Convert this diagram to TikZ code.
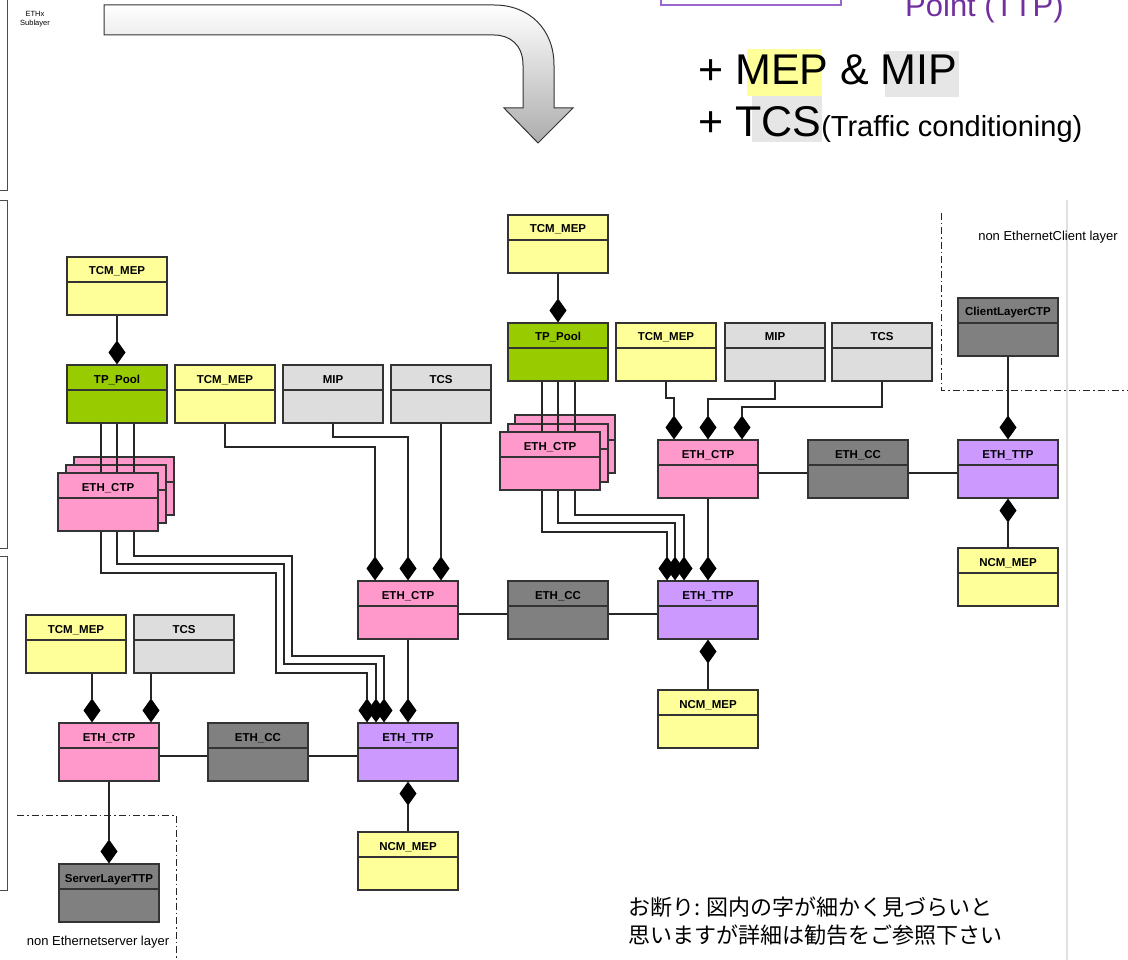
\documentclass[tikz,border=0pt]{standalone}
\usepackage{fontspec}
\setmainfont{Liberation Sans}
\newfontfamily\jpfont{Noto Sans CJK JP}
\usepackage{xcolor}
\usetikzlibrary{arrows.meta, positioning, calc}

\definecolor{mepyellow}{HTML}{FFFF99}
\definecolor{poolgreen}{HTML}{99CC00}
\definecolor{ctppink}{HTML}{FF99CC}
\definecolor{ttppurple}{HTML}{CC99FF}
\definecolor{ccgray}{HTML}{808080}
\definecolor{tcsgray}{HTML}{DDDDDD}
\definecolor{hlgray}{HTML}{E6E6E6}
\definecolor{ttptext}{HTML}{7030A0}
\definecolor{ttpframe}{HTML}{9966CC}

\newcommand{\boxfont}{\fontsize{11.5}{12}\selectfont\bfseries}

\begin{document}
\begin{tikzpicture}[x=1pt, y=-1pt,
    box/.style={draw=black!80, line width=1.1pt, minimum width=100pt,
        text height=12pt, text depth=34pt, inner ysep=6pt, inner xsep=2pt,
        font=\boxfont,
        path picture={\draw[line width=1.1pt, black!80]
            ([yshift=-25pt]path picture bounding box.north west) --
            ([yshift=-25pt]path picture bounding box.north east);}},
    mep/.style={box, fill=mepyellow},
    pool/.style={box, fill=poolgreen},
    ctp/.style={box, fill=ctppink},
    ttp/.style={box, fill=ttppurple},
    cc/.style={box, fill=ccgray},
    tcs/.style={box, fill=tcsgray},
    link/.style={draw=black!85, line width=1.2pt},
    comp/.style={link, -{Diamond[length=24pt, width=17pt, color=black, fill=black]}},
    compstart/.style={link, {Diamond[length=24pt, width=17pt, color=black, fill=black]}-},
    layer/.style={draw=black!85, line width=1pt, dash pattern=on 7pt off 3pt on 1.5pt off 3pt},
    layertext/.style={font=\fontsize{13}{14}\selectfont, inner sep=0pt}]

    \useasboundingbox (0,0) rectangle (1128,960);

    % 1. Side frames and guide line
    \draw[black!70, line width=0.8pt] (-5,190) -| (7,-5);
    \draw[black!70, line width=0.8pt] (-5,200) -| (7,548) -- (-5,548);
    \draw[black!70, line width=0.8pt] (-5,556) -| (7,890) -- (-5,890);
    \draw[black!12, line width=1.2pt] (1067,200) -- (1067,960);
    \node[align=center, font=\fontsize{7.5}{9}\selectfont] (sublayer) at (35,19) {ETHx\\Sublayer};

    % 2. Big bent arrow
    \draw[gray!40!black, line width=1pt, top color=white, bottom color=gray!65]
        (104,5) -- (494,5) .. controls (530,5) and (554,30) .. (554,65)
        -- (554,108) -- (573,108) -- (538,143) -- (504,108) -- (523,108)
        -- (523,65) .. controls (523,45) and (510,35) .. (494,35) -- (104,35) -- cycle;

    % 3. Headline texts
    \draw[ttpframe, line width=1.3pt] (661,-5) |- (841,5) -- (841,-5);
    \node[anchor=base west, inner sep=0pt, text=ttptext, font=\fontsize{31}{31}\selectfont] (ttpnote) at (905,17) {Point (TTP)};
    \fill[mepyellow] (747,49) rectangle (822,96);
    \fill[hlgray] (885,51) rectangle (959,97);
    \fill[hlgray] (752,96) rectangle (822,142);
    \node[anchor=base west, inner sep=0pt, font=\fontsize{43}{43}\selectfont] (mepline) at (698,85) {+ MEP \& MIP};
    \node[anchor=base west, inner sep=0pt] (tcsline) at (698,137)
        {{\fontsize{43}{43}\selectfont + TCS}{\fontsize{29}{29}\selectfont(Traffic conditioning)}};

    % 4. Boxes, left part
    \node[mep]  (tcmA)  at (117,286) {TCM\_MEP};
    \node[pool] (poolA) at (117,394) {TP\_Pool};
    \node[mep]  (tcmB)  at (225,394) {TCM\_MEP};
    \node[tcs]  (mipA)  at (333,394) {MIP};
    \node[tcs]  (tcsA)  at (441,394) {TCS};
    \node[ctp]  (ctpAc) at (124,486) {ETH\_CTP};
    \node[ctp]  (ctpAb) at (116,494) {ETH\_CTP};
    \foreach \dx in {-16,0,17}
        \draw[link] ([xshift=\dx pt]poolA.south) -- ([xshift=\dx pt]poolA.south |- ctpAb.south);
    \node[ctp]  (ctpA)  at (108,502) {ETH\_CTP};

    \node[ctp]  (ctpM)  at (408,610) {ETH\_CTP};
    \node[cc]   (ccM)   at (558,610) {ETH\_CC};
    \node[ttp]  (ttpR)  at (708,610) {ETH\_TTP};
    \node[mep]  (ncmR)  at (708,719) {NCM\_MEP};
    \node[ttp]  (ttpM)  at (408,752) {ETH\_TTP};
    \node[mep]  (ncmM)  at (408,861) {NCM\_MEP};

    \node[mep]  (tcmC)  at (76,644) {TCM\_MEP};
    \node[tcs]  (tcsC)  at (184,644) {TCS};
    \node[ctp]  (ctpC)  at (109,752) {ETH\_CTP};
    \node[cc]   (ccC)   at (258,752) {ETH\_CC};
    \node[cc]   (srvC)  at (109,893) {ServerLayerTTP};

    % 5. Boxes, right part
    \node[mep]  (tcmD)  at (558,244) {TCM\_MEP};
    \node[pool] (poolD) at (558,352) {TP\_Pool};
    \node[mep]  (tcmE)  at (666,352) {TCM\_MEP};
    \node[tcs]  (mipE)  at (775,352) {MIP};
    \node[tcs]  (tcsE)  at (882,352) {TCS};
    \node[ctp]  (ctpDc) at (565,444) {ETH\_CTP};
    \node[ctp]  (ctpDb) at (558,453) {ETH\_CTP};
    \foreach \dx in {-16,0,17}
        \draw[link] ([xshift=\dx pt]poolD.south) -- ([xshift=\dx pt]poolD.south |- ctpDb.south);
    \node[ctp]  (ctpD)  at (550,461) {ETH\_CTP};
    \node[ctp]  (ctpE)  at (708,469) {ETH\_CTP};
    \node[cc]   (ccE)   at (858,469) {ETH\_CC};
    \node[ttp]  (ttpE)  at (1008,469) {ETH\_TTP};
    \node[mep]  (ncmE)  at (1008,577) {NCM\_MEP};
    \node[cc]   (clientE) at (1008,327) {ClientLayerCTP};

    % 6. Connectors, left part
    \draw[comp] (tcmA) -- (poolA);
    \draw[comp] ([xshift=26pt]ctpA.south) |- (292,556) |- (384,656) -- ([xshift=-24pt]ttpM.north);
    \draw[comp] ([xshift=9pt]ctpA.south) |- (284,564) |- (376,664) -- ([xshift=-32pt]ttpM.north);
    \draw[comp] ([xshift=-7pt]ctpA.south) |- (276,573) |- (367,673) -- ([xshift=-41pt]ttpM.north);
    \draw[comp] (tcmB.south) |- (375,447) -- ([xshift=-33pt]ctpM.north);
    \draw[comp] (mipA.south) |- (408,437) -- (ctpM.north);
    \draw[comp] (tcsA.south) -- ([xshift=33pt]ctpM.north);
    \draw[link] ([yshift=-4pt]ctpM.east) -- ([yshift=-4pt]ccM.west);
    \draw[link] ([yshift=-4pt]ccM.east) -- ([yshift=-4pt]ttpR.west);
    \draw[comp] (ctpM) -- (ttpM);
    \draw[compstart] (ttpM) -- (ncmM);
    \draw[compstart] (ttpR) -- (ncmR);

    \draw[comp] ([xshift=16pt]tcmC.south) -- ([xshift=16pt]tcmC.south |- ctpC.north);
    \draw[comp] ([xshift=-33pt]tcsC.south) -- ([xshift=-33pt]tcsC.south |- ctpC.north);
    \draw[link] ([yshift=-4pt]ctpC.east) -- ([yshift=-4pt]ccC.west);
    \draw[link] ([yshift=-4pt]ccC.east) -- ([yshift=-4pt]ttpM.west);
    \draw[comp] (ctpC) -- (srvC);

    % 7. Connectors, right part
    \draw[comp] (tcmD) -- (poolD);
    \draw[comp] ([xshift=25pt]ctpD.south) |- (684,515) -- ([xshift=-24pt]ttpR.north);
    \draw[comp] ([xshift=8pt]ctpD.south) |- (675,523) -- ([xshift=-33pt]ttpR.north);
    \draw[comp] ([xshift=-8pt]ctpD.south) |- (667,532) -- ([xshift=-41pt]ttpR.north);
    \draw[comp] (ctpE) -- (ttpR);
    \draw[comp] (tcmE.south) |- (674,398) -- ([xshift=-34pt]ctpE.north);
    \draw[comp] (mipE.south) |- (708,399) -- (ctpE.north);
    \draw[comp] (tcsE.south) |- (742,407) -- ([xshift=34pt]ctpE.north);
    \draw[link] ([yshift=-4pt]ctpE.east) -- ([yshift=-4pt]ccE.west);
    \draw[link] ([yshift=-4pt]ccE.east) -- ([yshift=-4pt]ttpE.west);
    \draw[comp] (clientE) -- (ttpE);
    \draw[compstart] (ttpE) -- (ncmE);

    % 8. Layer borders and notes
    \draw[layer] (941,213) |- (1128,390);
    \draw[layer] (17,815) -| (176,960);
    \node[layertext] (clientlbl) at (1048,237) {non EthernetClient layer};
    \node[layertext] (serverlbl) at (98,942) {non Ethernetserver layer};
    \node[anchor=base west, inner sep=0pt, font=\jpfont\fontsize{22}{22}\selectfont] (note1) at (628,915) {お断り: 図内の字が細かく見づらいと};
    \node[anchor=base west, inner sep=0pt, font=\jpfont\fontsize{22}{22}\selectfont] (note2) at (628,943) {思いますが詳細は勧告をご参照下さい};

\end{tikzpicture}
\end{document}
